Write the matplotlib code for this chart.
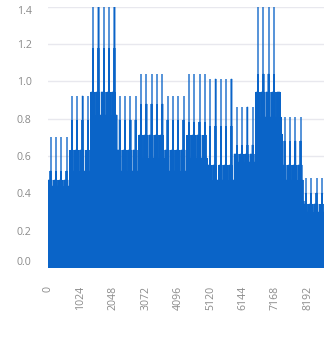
import numpy as np
import matplotlib.pyplot as plt

plt.rcParams['font.family'] = ['Open Sans', 'DejaVu Sans']

# samples per repeating cycle, cycles grouped into blocks of similar level
period = 168
block_periods = [4, 4, 5, 4, 5, 4, 4, 5, 4, 5, 4, 4]

# tallest value of every cycle
spike_tops = [
    0.70, 0.70, 0.70, 0.70,
    0.92, 0.92, 0.92, 0.92,
    1.42, 1.42, 1.42, 1.42, 1.42,
    0.92, 0.92, 0.92, 0.92,
    1.04, 1.04, 1.04, 1.04, 1.04,
    0.92, 0.92, 0.92, 0.92,
    1.04, 1.04, 1.04, 1.04,
    1.01, 1.01, 1.01, 1.01, 1.01,
    0.86, 0.86, 0.86, 0.86,
    1.42, 1.42, 1.42, 1.42, 0.94,
    0.81, 0.81, 0.81, 0.81,
    0.48, 0.48, 0.48, 0.48,
]

# per-block levels inside a cycle
second_tops = [0.52, 0.79, 1.18, 0.79, 0.88, 0.79, 0.78, 0.76, 0.66, 1.04, 0.68, 0.40]
upper_level = [0.47, 0.63, 0.94, 0.63, 0.71, 0.63, 0.71, 0.55, 0.61, 0.94, 0.55, 0.34]
middle_level = [0.44, 0.52, 0.82, 0.52, 0.59, 0.52, 0.59, 0.47, 0.57, 0.81, 0.47, 0.30]
lower_level = [0.40, 0.42, 0.63, 0.42, 0.50, 0.42, 0.47, 0.36, 0.45, 0.72, 0.36, 0.22]

xticks = [0, 1024, 2048, 3072, 4096, 5120, 6144, 7168, 8192]
yticks = [0.0, 0.2, 0.4, 0.6, 0.8, 1.0, 1.2, 1.4]

segments = []
k = 0
for b, n in enumerate(block_periods):
    for _ in range(n):
        seg = np.empty(period)
        seg[:104] = upper_level[b]
        seg[104:140] = middle_level[b]
        seg[140:] = lower_level[b]
        # short dips inside the upper run
        seg[28:31] = middle_level[b]
        seg[96:99] = lower_level[b]
        second = min(second_tops[b], spike_tops[k])
        seg[64:72] = second
        seg[76:80] = second
        seg[72:76] = spike_tops[k]
        segments.append(seg)
        k += 1
values = np.concatenate(segments)

blue = '#0a64c8'
fig = plt.figure(figsize=(3.24, 3.44), dpi=100)
ax = fig.add_axes([48.3 / 324, 76 / 344, 1 - 48.3 / 324, 261.5 / 344])

ax.bar(np.arange(len(values)), values, width=1.0, color=blue,
       edgecolor=blue, linewidth=0.35)

ax.set_xlim(-0.5, 8707)
ax.set_ylim(0, 1.4)
ax.set_xticks(xticks)
ax.set_xticklabels([str(t) for t in xticks], rotation=90)
ax.set_yticks(yticks)
ax.set_yticklabels([f'{t:.1f}' for t in yticks])

ax.yaxis.grid(True, color='#e8e8ee', linewidth=1.0)
ax.set_axisbelow(True)
for s in ax.spines.values():
    s.set_visible(False)

ax.tick_params(axis='both', length=0, labelsize=7.6, labelcolor='#8a8a8a')
ax.tick_params(axis='y', pad=12)
ax.tick_params(axis='x', pad=13)

ylabels = ax.get_yticklabels()
ylabels[0].set_va('bottom')
ylabels[-1].set_va('top')

fig.savefig('out.png', dpi=100)
